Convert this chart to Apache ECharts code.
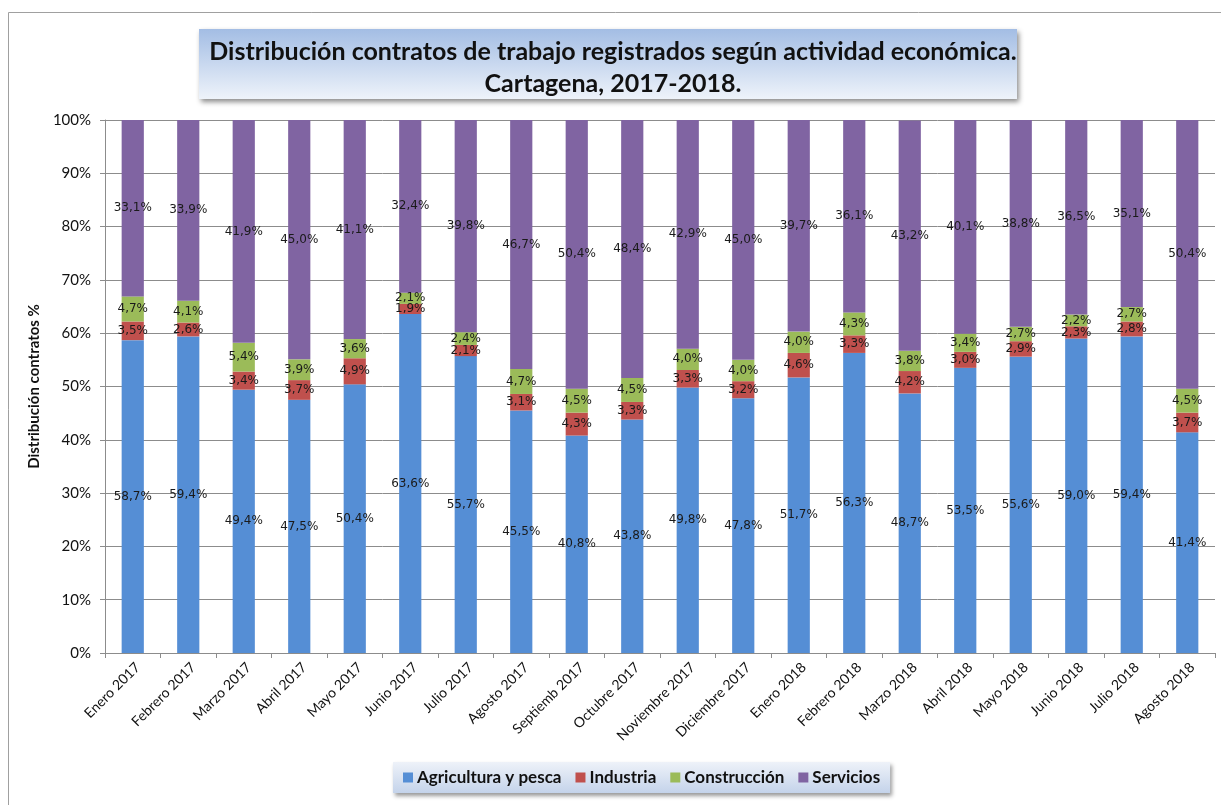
<!DOCTYPE html>
<html>
<head>
<meta charset="utf-8">
<script src="https://cdn.jsdelivr.net/npm/echarts@6/dist/echarts.min.js"></script>
<style>
  html, body { margin: 0; padding: 0; background: #fff; }
  #chart { width: 1221px; height: 805px; }
</style>
</head>
<body>
<div id="chart"></div>
<script>
// Meses (categorías)
const months = [
  'Enero 2017', 'Febrero 2017', 'Marzo 2017', 'Abril 2017', 'Mayo 2017',
  'Junio 2017', 'Julio 2017', 'Agosto 2017', 'Septiemb 2017', 'Octubre 2017',
  'Noviembre 2017', 'Diciembre 2017', 'Enero 2018', 'Febrero 2018', 'Marzo 2018',
  'Abril 2018', 'Mayo 2018', 'Junio 2018', 'Julio 2018', 'Agosto 2018'
];

const agricultura = [58.7, 59.4, 49.4, 47.5, 50.4, 63.6, 55.7, 45.5, 40.8, 43.8, 49.8, 47.8, 51.7, 56.3, 48.7, 53.5, 55.6, 59.0, 59.4, 41.4];
const industria = [3.5, 2.6, 3.4, 3.7, 4.9, 1.9, 2.1, 3.1, 4.3, 3.3, 3.3, 3.2, 4.6, 3.3, 4.2, 3.0, 2.9, 2.3, 2.8, 3.7];
const construccion = [4.7, 4.1, 5.4, 3.9, 3.6, 2.1, 2.4, 4.7, 4.5, 4.5, 4.0, 4.0, 4.0, 4.3, 3.8, 3.4, 2.7, 2.2, 2.7, 4.5];
const servicios = [33.1, 33.9, 41.9, 45.0, 41.1, 32.4, 39.8, 46.7, 50.4, 48.4, 42.9, 45.0, 39.7, 36.1, 43.2, 40.1, 38.8, 36.5, 35.1, 50.4];

const yTicks = [0, 10, 20, 30, 40, 50, 60, 70, 80, 90, 100];

const chart = echarts.init(document.getElementById('chart'));

const fmt = v => v.toFixed(1).replace('.', ',') + '%';

const mkSeries = (name, data, color) => ({
  name: name,
  type: 'bar',
  stack: 'total',
  barWidth: '40%',
  data: data,
  itemStyle: { color: color },
  label: {
    show: true,
    position: 'inside',
    formatter: p => fmt(p.value),
    color: '#1a1a1a',
    fontFamily: 'DejaVu Sans',
    fontSize: 12
  }
});

const option = {
  animation: false,
  backgroundColor: '#fff',
  graphic: [
    {
      // marco exterior
      type: 'rect',
      shape: { x: 8.5, y: 12.5, width: 1230, height: 820 },
      style: { fill: 'none', stroke: '#a0a0a0', lineWidth: 1 },
      silent: true
    },
    {
      // caja del título
      type: 'rect',
      z: -1,
      shape: { x: 199, y: 29, width: 818, height: 70 },
      style: {
        fill: new echarts.graphic.LinearGradient(0, 0, 0, 1, [
          { offset: 0, color: '#a3bde4' },
          { offset: 1, color: '#eef3fa' }
        ]),
        shadowBlur: 5,
        shadowOffsetX: 2,
        shadowOffsetY: 3,
        shadowColor: 'rgba(0,0,0,0.45)'
      },
      silent: true
    }
  ],
  title: {
    text: 'Distribución contratos de trabajo registrados según actividad económica.\nCartagena, 2017-2018.',
    left: 608,
    top: 31,
    textAlign: 'center',
    textStyle: {
      fontFamily: 'Lato',
      fontWeight: 'bold',
      fontSize: 25,
      lineHeight: 32,
      color: '#111'
    }
  },
  legend: {
    data: ['Agricultura y pesca', 'Industria', 'Construcción', 'Servicios'],
    left: 393,
    top: 762,
    itemWidth: 10,
    itemHeight: 10,
    itemGap: 14,
    icon: 'rect',
    padding: [7, 10, 7, 10],
    backgroundColor: new echarts.graphic.LinearGradient(0, 0, 0, 1, [
      { offset: 0, color: '#eef2f9' },
      { offset: 1, color: '#c4d3ea' }
    ]),
    shadowBlur: 4,
    shadowOffsetX: 2,
    shadowOffsetY: 3,
    shadowColor: 'rgba(0,0,0,0.4)',
    textStyle: {
      fontFamily: 'Lato',
      fontWeight: 'bold',
      fontSize: 17,
      color: '#111',
      padding: [0, 0, 0, -1]
    }
  },
  grid: {
    left: 105,
    right: 6,
    top: 120,
    bottom: 152
  },
  xAxis: {
    type: 'category',
    data: months,
    axisLine: { lineStyle: { color: '#8c8c8c' } },
    axisTick: { show: true, length: 5, lineStyle: { color: '#8c8c8c' } },
    axisLabel: {
      rotate: 45,
      interval: 0,
      margin: 7,
      verticalAlign: 'top',
      fontFamily: 'Lato',
      fontSize: 14,
      color: '#111'
    }
  },
  yAxis: {
    type: 'value',
    min: yTicks[0],
    max: yTicks[yTicks.length - 1],
    interval: 10,
    name: 'Distribución contratos %',
    nameLocation: 'middle',
    nameRotate: 90,
    nameGap: 61,
    nameTextStyle: {
      fontFamily: 'Lato',
      fontWeight: 'bold',
      fontSize: 15,
      color: '#111'
    },
    axisLine: { show: true, lineStyle: { color: '#8c8c8c' } },
    axisTick: { show: true, length: 5, lineStyle: { color: '#8c8c8c' } },
    axisLabel: {
      formatter: v => v + '%',
      margin: 14,
      fontFamily: 'Lato',
      fontSize: 15,
      color: '#111'
    },
    splitLine: { show: true, lineStyle: { color: '#8c8c8c', width: 1 } }
  },
  series: [
    mkSeries('Agricultura y pesca', agricultura, '#558ed5'),
    mkSeries('Industria', industria, '#c0504d'),
    mkSeries('Construcción', construccion, '#9bbb59'),
    mkSeries('Servicios', servicios, '#8064a2')
  ]
};

chart.setOption(option);
</script>
</body>
</html>
